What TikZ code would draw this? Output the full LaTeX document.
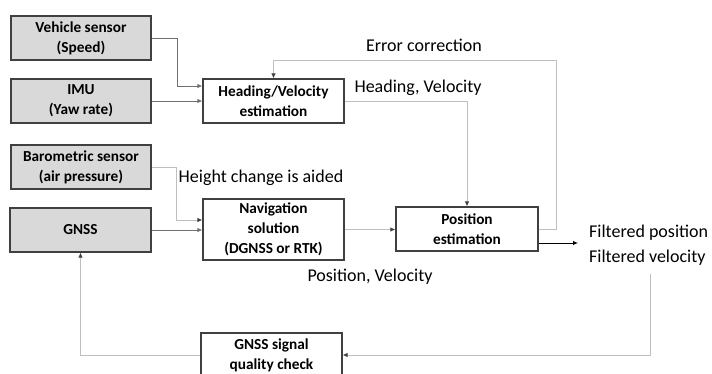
\documentclass[tikz,border=0pt]{standalone}
\usepackage{fontspec}
\setmainfont{Carlito}
\usetikzlibrary{arrows.meta}
\definecolor{boxline}{HTML}{404040}
\definecolor{boxfill}{HTML}{D9D9D9}
\definecolor{lndark}{HTML}{707070}
\definecolor{lnlight}{HTML}{BFBFBF}
\begin{document}
\begin{tikzpicture}[x=1pt,y=-1pt,
  blk/.style={draw=boxline,line width=1.2pt,minimum width=140pt,minimum height=44pt,
    inner sep=0pt,align=center,font=\fontsize{15.3}{20}\selectfont\bfseries},
  grayblk/.style={blk,fill=boxfill},
  whiteblk/.style={blk,fill=white},
  lbl/.style={font=\fontsize{18}{25}\selectfont,text=black,inner sep=0pt,align=left},
  conn/.style={draw=lndark,line width=0.9pt,-{Latex[length=5pt,width=4.5pt]}},
  connl/.style={draw=lnlight,line width=0.9pt,-{Latex[length=5pt,width=4.5pt,color=boxline]}}
]
\useasboundingbox (0,0) rectangle (712,374);
\clip (0,0) rectangle (712,374);
\node[grayblk] (veh) at (81,38) {Vehicle sensor\\(Speed)};
\node[grayblk] (imu) at (81,101) {IMU\\(Yaw rate)};
\node[grayblk] (baro) at (81,167) {Barometric sensor\\(air pressure)};
\node[grayblk,minimum width=141pt] (gnss) at (80.5,230) {GNSS};
\node[whiteblk,minimum width=141pt] (head) at (273.5,101) {Heading/Velocity\\estimation};
\node[whiteblk,minimum width=141pt,minimum height=61pt] (nav) at (273.5,229.5) {Navigation\\solution\\(DGNSS or RTK)};
\node[whiteblk,minimum width=142pt] (pos) at (467,229) {Position\\estimation};
\node[whiteblk,minimum width=141pt] (qual) at (271.5,355) {GNSS signal\\quality check};

\node[lbl,anchor=west] (out) at (589,245.5) {Filtered position\\Filtered velocity};
\node[lbl] (lerr) at (424,45) {Error correction};
\node[lbl] (lhv) at (418,88) {Heading, Velocity};
\node[lbl] (lhc) at (261,178) {Height change is aided};
\node[lbl] (lpv) at (370,277) {Position, Velocity};

\coordinate (vk) at (177,86);
\coordinate (bk) at (176,220);
\coordinate (ec) at (556,60);
\coordinate (fb) at (650,274);
\coordinate (fbk) at (650,355);
\coordinate (ok) at (578,243);

\draw[conn] (veh.east) -| (vk) -- (head.west |- vk);
\draw[conn] (imu.east) -- (head.west);
\draw[connl] (baro.east) -| (bk) -- (nav.west |- bk);
\draw[conn] (gnss.east) -- (nav.west |- gnss.east);
\draw[connl] (head.east) -| (pos.north);
\draw[connl] (nav.east) -- (pos.west |- nav.east);
\draw[connl] (pos.east) -| (ec) -| (head.north);
\draw[draw=black,line width=0.9pt,-{Latex[length=5pt,width=4.5pt]}] (pos.east |- ok) -- (ok);
\draw[connl] (fb) -- (fbk) -- (qual.east);
\draw[connl] (qual.west) -| (gnss.south);
\end{tikzpicture}
\end{document}
